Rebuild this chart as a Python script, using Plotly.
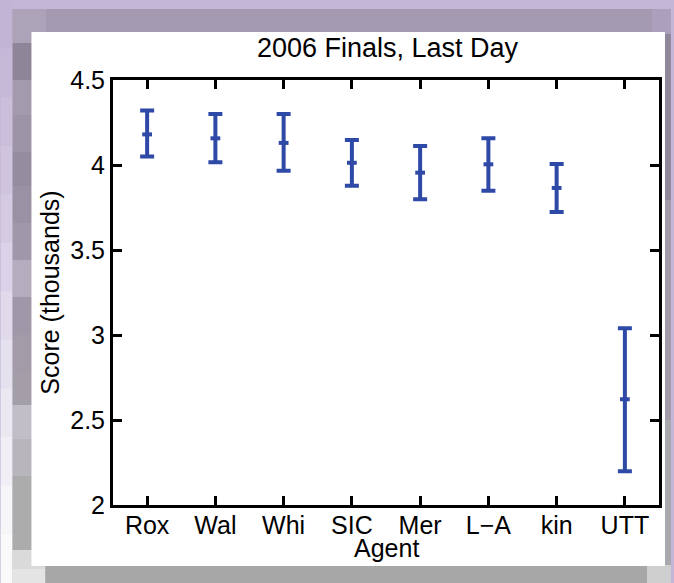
import plotly.graph_objects as go

# ---- data ----
agents = ["Rox", "Wal", "Whi", "SIC", "Mer", "L\u2212A", "kin", "UTT"]
means = [4.18, 4.157, 4.13, 4.013, 3.955, 4.004, 3.865, 2.622]
upper = [4.32, 4.30, 4.30, 4.147, 4.112, 4.157, 4.006, 3.039]
lower = [4.05, 4.016, 3.966, 3.878, 3.798, 3.849, 3.724, 2.198]
y_ticks = [2, 2.5, 3, 3.5, 4, 4.5]
y_ticktext = ["2", "2.5", "3", "3.5", "4", "4.5"]

err_plus = [u - m for u, m in zip(upper, means)]
err_minus = [m - l for m, l in zip(means, lower)]

W, H = 674, 583
ML, MR, MT, MB = 113, 12, 80, 78
PW, PH = W - ML - MR, H - MT - MB

def px(x):
    return (x - ML) / PW

def py(y):
    return 1 - (y - MT) / PH

shapes = []

def rect(x0, y0, x1, y1, color):
    shapes.append(dict(type="rect", xref="paper", yref="paper",
                       x0=px(x0), x1=px(x1), y0=py(y1), y1=py(y0),
                       fillcolor=color, line=dict(width=0), layer="below"))

# background decoration
rect(0, 0, W, H, "#c4b6d6")
grad = ["#c2b4d5", "#c6b9d8", "#cabedb", "#cfc4de", "#d4cbe2", "#dad2e6",
        "#e0daea", "#e6e1ee", "#ece8f2", "#f1eff5", "#f6f5f8", "#fafafb"]
n = len(grad)
for i, c in enumerate(grad):
    rect(0, H * i / n, 12, H * (i + 1) / n + 1, c)
rect(12, 9, 45, 40, "#ada4b9")
rect(45, 9, 655, 34, "#a399b0")
rect(655, 9, W, 34, "#ab9fbb")
mosaic_y = [9, 43, 80, 115, 152, 186, 223, 260, 297, 335, 372, 405, 439, 476, 550, 569]
mosaic_c = ["#aca3b8", "#8e8698", "#a39aae", "#9d94a8", "#958c9f", "#9a92a4",
            "#a097aa", "#b4adbd", "#9f98a8", "#a39ca8", "#a49ea8", "#c2bec8",
            "#b8b5bc", "#acacad", "#dadada"]
for i, c in enumerate(mosaic_c):
    rect(12, mosaic_y[i], 45, mosaic_y[i + 1], c)
rect(12, 569, 45, H, "#e4e4e4")
rect(668, 34, W, 200, "#8f889a")
rect(668, 200, W, 420, "#a19ba8")
rect(668, 420, W, 565, "#a9a8ac")
rect(45, 565, 650, H, "#a7a7a7")
rect(650, 565, W, H, "#cfcfcf")
# white panel
rect(31, 32, 668, 566, "#ffffff")

blue = "#2f49a6"
font_family = "Liberation Sans, Arial, sans-serif"

fig = go.Figure()
fig.add_trace(go.Scatter(
    x=agents, y=means, mode="markers",
    marker=dict(symbol="line-ew", size=7, color=blue,
                line=dict(color=blue, width=4)),
    error_y=dict(type="data", symmetric=False, array=err_plus,
                 arrayminus=err_minus, color=blue, thickness=4, width=7),
    showlegend=False, hoverinfo="skip"))

fig.update_layout(
    width=W, height=H,
    margin=dict(l=ML, r=MR, t=MT, b=MB, pad=0),
    paper_bgcolor="#c4b6d6",
    plot_bgcolor="rgba(0,0,0,0)",
    shapes=shapes,
    font=dict(family=font_family, color="#000000", size=25),
    title=dict(text="2006 Finals, Last Day", x=(ML + PW / 2) / W, xanchor="center",
               y=1 - 48 / H, yanchor="middle",
               font=dict(size=27, family=font_family, color="#000000")),
    xaxis=dict(
        type="category", range=[-0.5, 7.5],
        showline=True, linecolor="#000000", linewidth=3, mirror="ticks",
        ticks="inside", ticklen=9, tickwidth=3, tickcolor="#000000",
        showgrid=False, zeroline=False, ticklabelstandoff=-4,
        tickfont=dict(size=25, family=font_family),
    ),
    yaxis=dict(
        range=[2, 4.5], tickvals=y_ticks, ticktext=y_ticktext,
        showline=True, linecolor="#000000", linewidth=3, mirror="ticks",
        ticks="inside", ticklen=9, tickwidth=3, tickcolor="#000000",
        showgrid=False, zeroline=False,
        tickfont=dict(size=25, family=font_family),
        title=dict(text="Score (thousands)", font=dict(size=25, family=font_family),
                   standoff=4),
    ),
    annotations=[dict(text="Agent", xref="paper", yref="paper",
                      x=0.5, y=py(548), xanchor="center", yanchor="middle",
                      showarrow=False, font=dict(size=25, family=font_family))],
)

fig.write_html(
    "out.html",
    config={"displayModeBar": False},
    post_script="document.body.style.margin='0';document.body.style.overflow='hidden';",
)
